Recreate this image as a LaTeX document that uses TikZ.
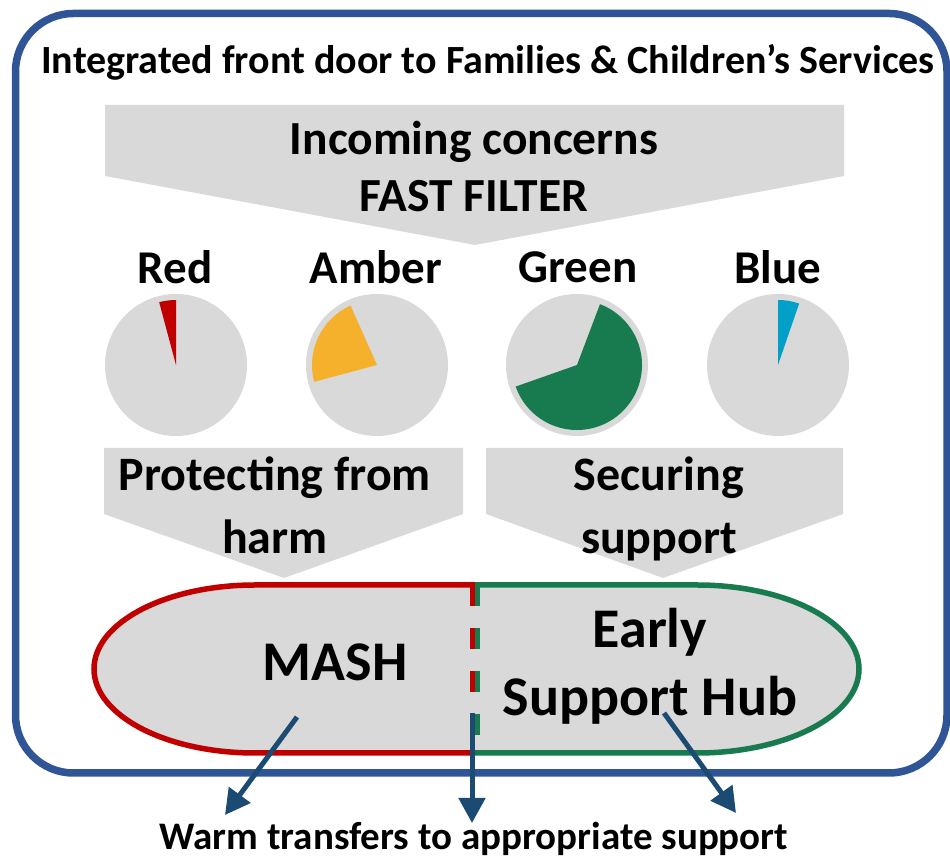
\documentclass[tikz,border=0pt]{standalone}
\usepackage{fontspec}
\setmainfont{Carlito}
\usetikzlibrary{arrows.meta}
\definecolor{framebl}{HTML}{2F5597}
\definecolor{boxgray}{HTML}{D9D9D9}
\definecolor{ragred}{HTML}{C00000}
\definecolor{ragamber}{HTML}{F5B12B}
\definecolor{raggreen}{HTML}{177B4F}
\definecolor{ragblue}{HTML}{00A0C8}
\definecolor{arrowbl}{HTML}{1B4A72}
\begin{document}
\begin{tikzpicture}[x=1pt,y=1pt,
  titletext/.style={font=\bfseries\fontsize{40}{48}\selectfont,inner sep=0pt},
  filtertext/.style={font=\bfseries\fontsize{47.5}{57}\selectfont,align=center,inner sep=0pt},
  ragtext/.style={font=\bfseries\fontsize{47}{56}\selectfont,inner sep=0pt},
  routetext/.style={font=\bfseries\fontsize{48}{63}\selectfont,align=center,inner sep=0pt},
  hubtext/.style={font=\bfseries\fontsize{56}{68}\selectfont,align=center,inner sep=0pt},
  foottext/.style={font=\bfseries\fontsize{39}{46}\selectfont,inner sep=0pt},
  transfer/.style={line width=5pt,arrowbl,-{Triangle[width=26pt,length=25pt]}}]
  \useasboundingbox (0,0) rectangle (950,861);
  % outer frame
  \draw[framebl,line width=7.5pt,rounded corners=58pt] (15.5,847.5) rectangle (947,88);
  \node[titletext] (title) at (488,799) {Integrated front door to Families \& Children’s Services};
  % fast filter funnel
  \fill[boxgray] (105,756) -- (844,756) -- (844,685) -- (475,616) -- (105,685) -- cycle;
  \node[filtertext] (filter) at (474,694) {Incoming concerns\\FAST FILTER};
  % rag pies
  \foreach \cx/\sa/\ea/\col in {176/90/105/ragred,377/114/195/ragamber,577/-160.6/69.3/raggreen,778/71/90/ragblue}{
    \fill[boxgray] (\cx,496) circle (71);
    \fill[\col] (\cx,496) -- ++(\sa:65) arc[start angle=\sa,end angle=\ea,radius=65] -- cycle;
  }
  \node[ragtext] (red) at (175,594) {Red};
  \node[ragtext] (amber) at (376,594) {Amber};
  \node[ragtext] (green) at (578,594) {Green};
  \node[ragtext] (blue) at (778,594) {Blue};
  % routes
  \fill[boxgray] (104,413) -- (463,413) -- (463,347) -- (284,283) -- (104,347) -- cycle;
  \fill[boxgray] (486,413) -- (843,413) -- (843,347) -- (663,283) -- (486,347) -- cycle;
  \node[routetext] (protect) at (275,356) {Protecting from\\harm};
  \node[routetext] (secure) at (659,352) {Securing\\support};
  % mash and hub
  \fill[boxgray] (475,276) -- (255,276) arc[start angle=90,end angle=270,x radius=161,y radius=84]
    -- (697,108) arc[start angle=-90,end angle=90,x radius=162,y radius=84] -- cycle;
  \draw[ragred,line width=5.5pt] (475,276) -- (255,276) arc[start angle=90,end angle=270,x radius=161,y radius=84] -- (475,108);
  \draw[raggreen,line width=5.5pt] (475,276) -- (697,276) arc[start angle=90,end angle=-90,x radius=162,y radius=84] -- (475,108);
  \draw[ragred,line width=5pt,dash pattern=on 21pt off 22pt] (472.5,276) -- (472.5,108);
  \draw[raggreen,line width=5pt,dash pattern=on 21pt off 22pt] (477.5,276) -- (477.5,108);
  \node[hubtext] (mash) at (335,199) {MASH};
  \node[hubtext] (hub) at (650,195) {Early\\Support Hub};
  % warm transfers
  \coordinate (mashout) at (297,144);
  \coordinate (midout) at (472,148);
  \coordinate (hubout) at (664,148);
  \coordinate (lefttgt) at (225,46);
  \coordinate (midtgt) at (472,38);
  \coordinate (righttgt) at (736,48);
  \draw[transfer] (mashout) -- (lefttgt);
  \draw[transfer] (midout) -- (midtgt);
  \draw[transfer] (hubout) -- (righttgt);
  \node[foottext] (warm) at (474,22) {Warm transfers to appropriate support};
\end{tikzpicture}
\end{document}
